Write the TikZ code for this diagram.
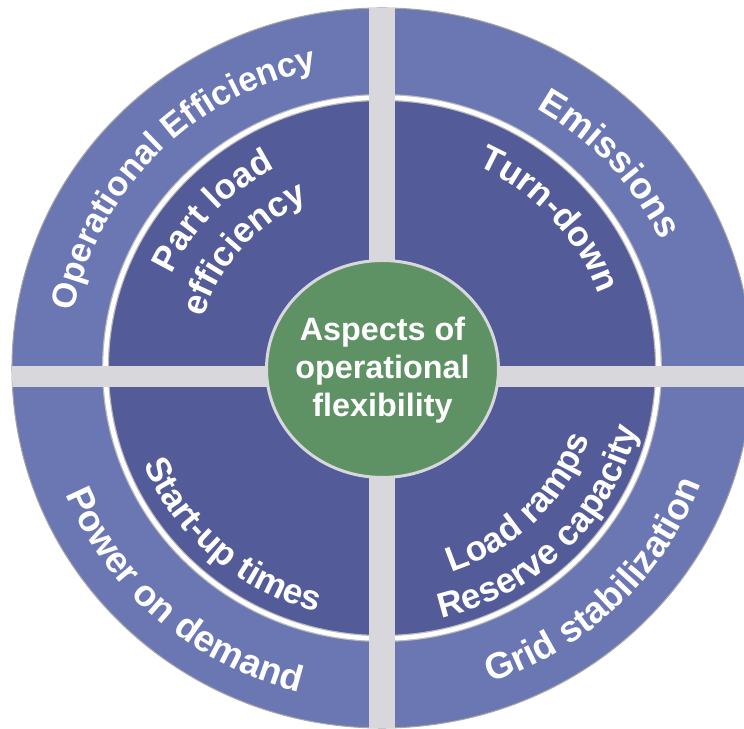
\documentclass[tikz,border=0pt]{standalone}
\usepackage{fontspec}
\setmainfont{Liberation Sans}
\usetikzlibrary{decorations.text}

\definecolor{ringblue}{HTML}{6A77B3}
\definecolor{diskblue}{HTML}{535B98}
\definecolor{crossgrey}{HTML}{D8D8DC}
\definecolor{coregreen}{HTML}{5E9265}

\newcommand{\outerfont}{\fontsize{21}{24}\selectfont\bfseries}
\newcommand{\innerfont}{\fontsize{20}{23}\selectfont\bfseries}

\begin{document}
\begin{tikzpicture}[x=0.02cm, y=0.02cm,
    arclabel/.style={decorate, decoration={text along path, text align=center,
        text color=white, text={#1}}}]
    \useasboundingbox (-382,-361) rectangle (362,368);
    \clip (-382,-361) rectangle (362,368);

    % outer band and inner disc
    \filldraw[fill=ringblue, draw=gray!70, line width=0.6pt] (0,0) ellipse [x radius=370, y radius=360];
    \fill[diskblue] (0,0) ellipse [x radius=274, y radius=267];
    \draw[gray!55, line width=4pt] (0,0) ellipse [x radius=276.5, y radius=270.5];
    \draw[white, line width=2.6pt] (0,0) ellipse [x radius=276.5, y radius=270.5];

    % the cross
    \begin{scope}
        \clip (0,0) ellipse [x radius=370, y radius=360];
        \fill[crossgrey] (-13,-400) rectangle (13,400);
        \fill[crossgrey] (-400,2) rectangle (400,-19);
    \end{scope}

    % centre
    \filldraw[fill=coregreen, draw=crossgrey, line width=1.7pt] (0.5,-1) ellipse [x radius=116, y radius=108.5];
    \node[text=white, align=center, font=\fontsize{18.4}{21.5}\selectfont\bfseries] (core) at (0.5,-2)
        {Aspects of\\operational\\flexibility};

    % outer labels
    \path[arclabel={|\fontsize{19.6}{23}\selectfont\bfseries|Operational Efficiency}] (196:313 and 305) arc[start angle=196, end angle=76, x radius=313, y radius=305];
    \path[arclabel={|\outerfont|Emissions}] (102:308 and 300) arc[start angle=102, end angle=-18, x radius=308, y radius=300];
    \path[arclabel={|\outerfont|Grid stabilization}] (-105.5:340 and 332) arc[start angle=-105.5, end angle=14.5, x radius=340, y radius=332];
    \path[arclabel={|\outerfont|Power on demand}] (168.7:342 and 334) arc[start angle=168.7, end angle=288.7, x radius=342, y radius=334];

    % inner labels
    \path[arclabel={|\innerfont|Turn-down}] (101.8:229 and 222) arc[start angle=101.8, end angle=-18.2, x radius=229, y radius=222];
    \path[arclabel={|\innerfont|Part load}] (197:231 and 225) arc[start angle=197, end angle=77, x radius=231, y radius=225];
    \path[arclabel={|\innerfont|efficiency}] (199:186 and 181) arc[start angle=199, end angle=79, x radius=186, y radius=181];
    \path[arclabel={|\innerfont|Start-up times}] (168.7:258 and 252) arc[start angle=168.7, end angle=288.7, x radius=258, y radius=252];
    \path[arclabel={|\innerfont|Load ramps}] (-105:220 and 215) arc[start angle=-105, end angle=15, x radius=220, y radius=215];
    \path[arclabel={|\innerfont|Reserve capacity}] (-105:263 and 257) arc[start angle=-105, end angle=15, x radius=263, y radius=257];
\end{tikzpicture}
\end{document}
